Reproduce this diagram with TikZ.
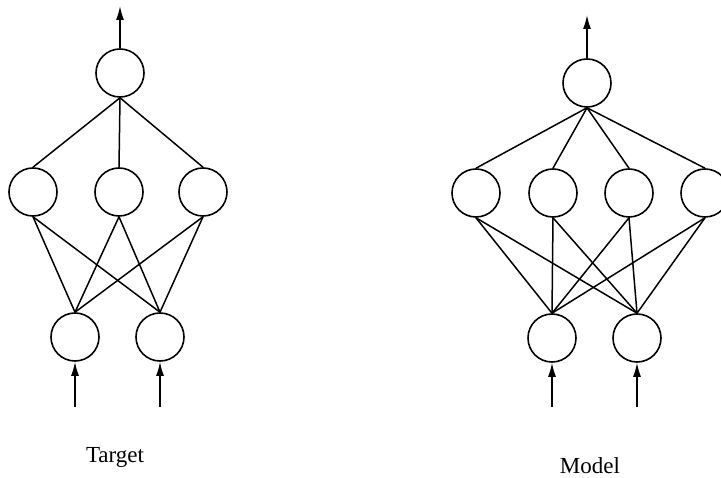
\documentclass[tikz,border=0pt]{standalone}
\usepackage{fontspec}
\setmainfont{Liberation Serif}
\usetikzlibrary{arrows.meta}
\begin{document}
\begin{tikzpicture}[x=1pt,y=-1pt,
  neuron/.style={circle,draw,line width=1.6pt,minimum size=48pt,inner sep=0pt},
  link/.style={line width=1.5pt},
  sig/.style={line width=1.5pt,-{Latex[length=14pt,width=8pt]}},
  lbl/.style={font=\fontsize{23}{27}\selectfont}]
\useasboundingbox (0,0) rectangle (721,478);
% Target network
\node[neuron] (to) at (120,73) {};
\node[neuron] (th1) at (33,192) {};
\node[neuron] (th2) at (119,192) {};
\node[neuron] (th3) at (203,192) {};
\node[neuron] (ti1) at (75,337) {};
\node[neuron] (ti2) at (160,337) {};
\coordinate (tout) at (120,6);
\coordinate (tin1) at (75,407);
\coordinate (tin2) at (160,407);
\draw[sig] (to.north) -- (tout);
\draw[sig] (tin1) -- (ti1.south);
\draw[sig] (tin2) -- (ti2.south);
\foreach \h in {th1,th2,th3}{
  \draw[link] (to.south) -- (\h.north);
  \draw[link] (\h.south) -- (ti1.north);
  \draw[link] (\h.south) -- (ti2.north);
}
\node[lbl] (tlab) at (115,457) {Target};
% Model network
\node[neuron] (mo) at (587,83) {};
\node[neuron] (mh1) at (476,193) {};
\node[neuron] (mh2) at (553,193) {};
\node[neuron] (mh3) at (629,193) {};
\node[neuron] (mh4) at (705,193) {};
\node[neuron] (mi1) at (552,338) {};
\node[neuron] (mi2) at (637,338) {};
\coordinate (mout) at (587,15);
\coordinate (min1) at (552,407);
\coordinate (min2) at (637,407);
\draw[sig] (mo.north) -- (mout);
\draw[sig] (min1) -- (mi1.south);
\draw[sig] (min2) -- (mi2.south);
\foreach \h in {mh1,mh2,mh3,mh4}{
  \draw[link] (mo.south) -- (\h.north);
  \draw[link] (\h.south) -- (mi1.north);
  \draw[link] (\h.south) -- (mi2.north);
}
\node[lbl] (mlab) at (590,466) {Model};
\end{tikzpicture}
\end{document}
